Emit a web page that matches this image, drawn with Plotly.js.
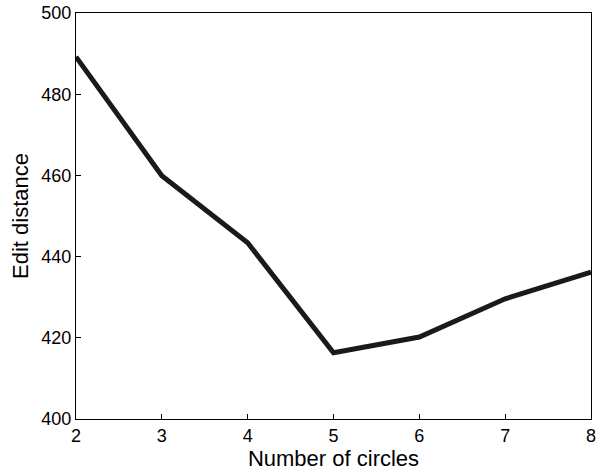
<!DOCTYPE html>
<html>
<head>
<meta charset="utf-8">
<script src="https://cdn.plot.ly/plotly-3.0.1.min.js"></script>
<style>html,body{margin:0;padding:0;background:#fff;}#chart{width:596px;height:476px;}</style>
</head>
<body>
<div id="chart"></div>
<script>
var circles = [2, 3, 4, 5, 6, 7, 8];
var editDistance = [489.2, 459.9, 443.4, 416.3, 420.2, 429.6, 436.2];
var xTicks = [2, 3, 4, 5, 6, 7, 8];
var yTicks = [400, 420, 440, 460, 480, 500];

var trace = {
  x: circles, y: editDistance, type: 'scatter', mode: 'lines',
  line: {color: '#1a1a1a', width: 5}, hoverinfo: 'skip'
};
var axisCommon = {
  showgrid: false, zeroline: false, showline: true, linecolor: '#000', linewidth: 1,
  mirror: true, ticks: 'inside', ticklen: 5, tickcolor: '#000',
  ticklabeloverflow: 'allow',
  tickfont: {family: 'Liberation Sans, Arial, sans-serif', size: 18, color: '#000'}
};
var layout = {
  width: 596, height: 476,
  margin: {l: 76, r: 5, t: 13, b: 57},
  paper_bgcolor: '#fff', plot_bgcolor: '#fff',
  showlegend: false,
  xaxis: Object.assign({}, axisCommon, {
    range: [2, 8], tickvals: xTicks, ticktext: xTicks.map(String),
    title: {text: 'Number of circles', font: {family: 'Liberation Sans, Arial, sans-serif', size: 22, color: '#000'}, standoff: 4}
  }),
  yaxis: Object.assign({}, axisCommon, {
    range: [400, 500], tickvals: yTicks, ticktext: yTicks.map(String),
    title: {text: 'Edit distance', font: {family: 'Liberation Sans, Arial, sans-serif', size: 22, color: '#000'}, standoff: 6}
  })
};
Plotly.newPlot('chart', [trace], layout, {displayModeBar: false, staticPlot: true});
</script>
</body>
</html>
